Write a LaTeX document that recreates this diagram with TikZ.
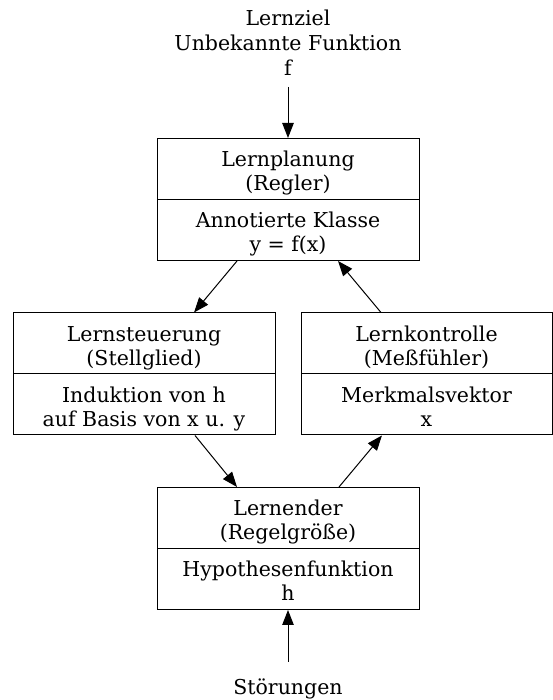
\documentclass[tikz,border=0pt]{standalone}
\usepackage{fontspec}
\setmainfont{DejaVu Serif}
\usetikzlibrary{arrows.meta}
\newcommand{\twolines}[2]{\rule{0pt}{25pt}#1\\#2\rule[-5pt]{0pt}{5pt}}
\begin{document}
\begin{tikzpicture}[x=1pt,y=1pt,
  part/.style={draw, line width=1pt, minimum width=262pt, minimum height=61pt, inner sep=0pt, align=center, font=\fontsize{20.5}{24}\selectfont},
  plain/.style={inner sep=0pt, align=center, font=\fontsize{20.5}{25}\selectfont},
  arr/.style={line width=1pt, -{Triangle[length=15pt,width=11.5pt]}}]
\useasboundingbox (0,0) rectangle (553,700);
% top box
\node[part] (planup) at (288,531) {\twolines{Lernplanung}{(Regler)}};
\node[part] (planlow) at (288,470) {\twolines{Annotierte Klasse}{y = f(x)}};
% left box
\node[part] (steerup) at (144,356.5) {\twolines{Lernsteuerung}{(Stellglied)}};
\node[part] (steerlow) at (144,295.5) {\twolines{Induktion von h}{auf Basis von x u. y}};
% right box
\node[part, minimum width=251pt] (ctrlup) at (426.5,356.5) {\twolines{Lernkontrolle}{(Meßfühler)}};
\node[part, minimum width=251pt] (ctrllow) at (426.5,295.5) {\twolines{Merkmalsvektor}{x}};
% bottom box
\node[part] (learnup) at (288,182) {\twolines{Lernender}{(Regelgröße)}};
\node[part] (learnlow) at (288,121) {\twolines{Hypothesenfunktion}{h}};
% free texts
\node[plain] (goal) at (288,657) {Lernziel\\Unbekannte Funktion\\f};
\node[plain] (dist) at (288,11) {Störungen};
\coordinate (goalend) at (288,613);
\coordinate (distend) at (288,38);
% arrows
\draw[arr] (goalend) -- (planup.north);
\draw[arr] ([xshift=-51pt]planlow.south) -- ([xshift=50pt]steerup.north);
\draw[arr] ([xshift=-45.5pt]ctrlup.north) -- ([xshift=50pt]planlow.south);
\draw[arr] ([xshift=51pt]steerlow.south) -- ([xshift=-51pt]learnup.north);
\draw[arr] ([xshift=51pt]learnup.north) -- ([xshift=-44.5pt]ctrllow.south);
\draw[arr] (distend) -- (learnlow.south);
\end{tikzpicture}
\end{document}
